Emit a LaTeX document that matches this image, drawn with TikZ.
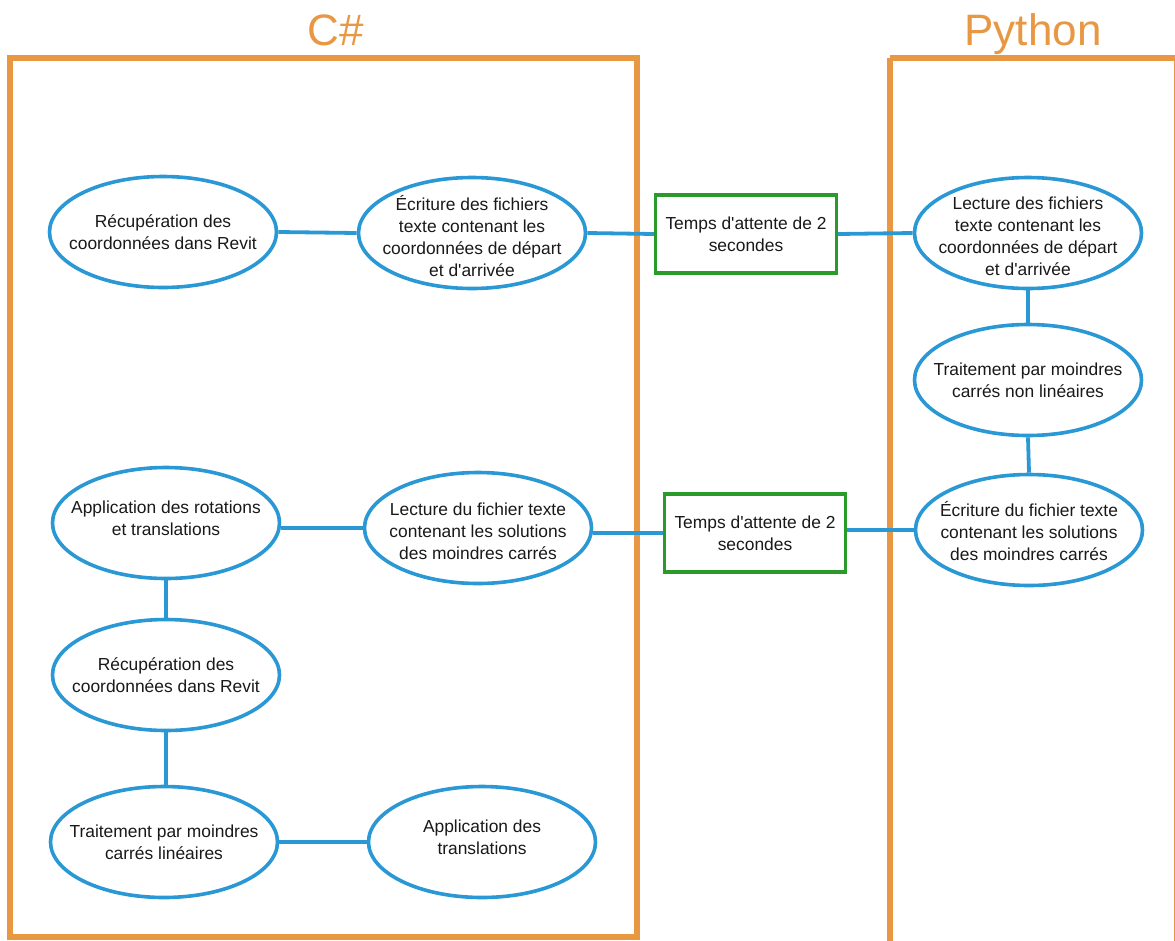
\documentclass[tikz,border=0pt]{standalone}
\usepackage{fontspec}
\setmainfont{Liberation Sans}
\usetikzlibrary{shapes.geometric}
\definecolor{orangeC}{RGB}{232,151,66}
\definecolor{blueC}{RGB}{43,152,214}
\definecolor{greenC}{RGB}{42,154,42}
\tikzset{
  ell/.style={ellipse, draw=blueC, line width=3.6pt, fill=white, minimum width=227pt, minimum height=111pt, inner sep=0pt},
  txt/.style={align=center, inner sep=0pt, font=\fontsize{17.4}{22}\selectfont, text=black!90},
  waitbox/.style={rectangle, draw=greenC, line width=3.2pt, fill=white, minimum width=181pt, minimum height=78pt, inner sep=0pt, align=center, font=\fontsize{17.4}{22}\selectfont, text=black!90},
  conn/.style={draw=blueC, line width=3.8pt},
  lane/.style={draw=orangeC, line width=6pt},
  lanetitle/.style={anchor=base, text=orangeC, font=\fontsize{44}{50}\selectfont}
}
\newcommand{\q}{\textquotesingle}
\begin{document}
\begin{tikzpicture}[x=1pt,y=-1pt]
\useasboundingbox (0,0) rectangle (1175,940);
\fill[white] (0,0) rectangle (1175,940);
% lanes
\draw[lane] (10,58) rectangle (637,937);
\draw[lane] (890,58) -- (890,950);
\draw[lane] (890,58) -- (1177,58) -- (1177,950);
\node[lanetitle] (t1) at (336,45) {C\#};
\node[lanetitle] (t2) at (1033,45) {Python};
% nodes
\node[ell] (a1) at (163,232) {};
\node[txt] (a1t) at (a1) {Récupération des\\coordonnées dans Revit};
\node[ell] (a2) at (472,233) {};
\node[txt] (a2t) at (472,236) {Écriture des fichiers\\texte contenant les\\coordonnées de départ\\et d\q arrivée};
\node[ell] (a3) at (166,523) {};
\node[txt] (a3t) at (166,518) {Application des rotations\\et translations};
\node[ell] (a4) at (478,528) {};
\node[txt] (a4t) at (478,531) {Lecture du fichier texte\\contenant les solutions\\des moindres carrés};
\node[ell] (a5) at (166,675) {};
\node[txt] (a5t) at (a5) {Récupération des\\coordonnées dans Revit};
\node[ell] (a6) at (164,842) {};
\node[txt] (a6t) at (164,842) {Traitement par moindres\\carrés linéaires};
\node[ell] (a7) at (482,842) {};
\node[txt] (a7t) at (482,837) {Application des\\translations};
\node[waitbox] (g1) at (746,234) {Temps d\q attente de 2\\secondes};
\node[waitbox] (g2) at (755,533) {Temps d\q attente de 2\\secondes};
\node[ell] (p1) at (1028,233) {};
\node[txt] (p1t) at (1028,236) {Lecture des fichiers\\texte contenant les\\coordonnées de départ\\et d\q arrivée};
\node[ell] (p2) at (1028,380) {};
\node[txt] (p2t) at (p2) {Traitement par moindres\\carrés non linéaires};
\node[ell] (p3) at (1029,530) {};
\node[txt] (p3t) at (1029,531) {Écriture du fichier texte\\contenant les solutions\\des moindres carrés};
% connectors
\draw[conn] (a1.east) -- (a2.west);
\draw[conn] (a2.east) -- (g1.west);
\draw[conn] (g1.east) -- (p1.west);
\draw[conn] (p1.south) -- (p2.north);
\draw[conn] (p2.south) -- (p3.north);
\draw[conn] (p3.west) -- (p3.west -| g2.east);
\draw[conn] (g2.west) -- (g2.west -| a4.east);
\draw[conn] (a4.west) -- (a3.east |- a4.west);
\draw[conn] (a3.south) -- (a5.north);
\draw[conn] (a5.south) -- (a5.south |- a6.north);
\draw[conn] (a6.east) -- (a7.west);
\end{tikzpicture}
\end{document}
